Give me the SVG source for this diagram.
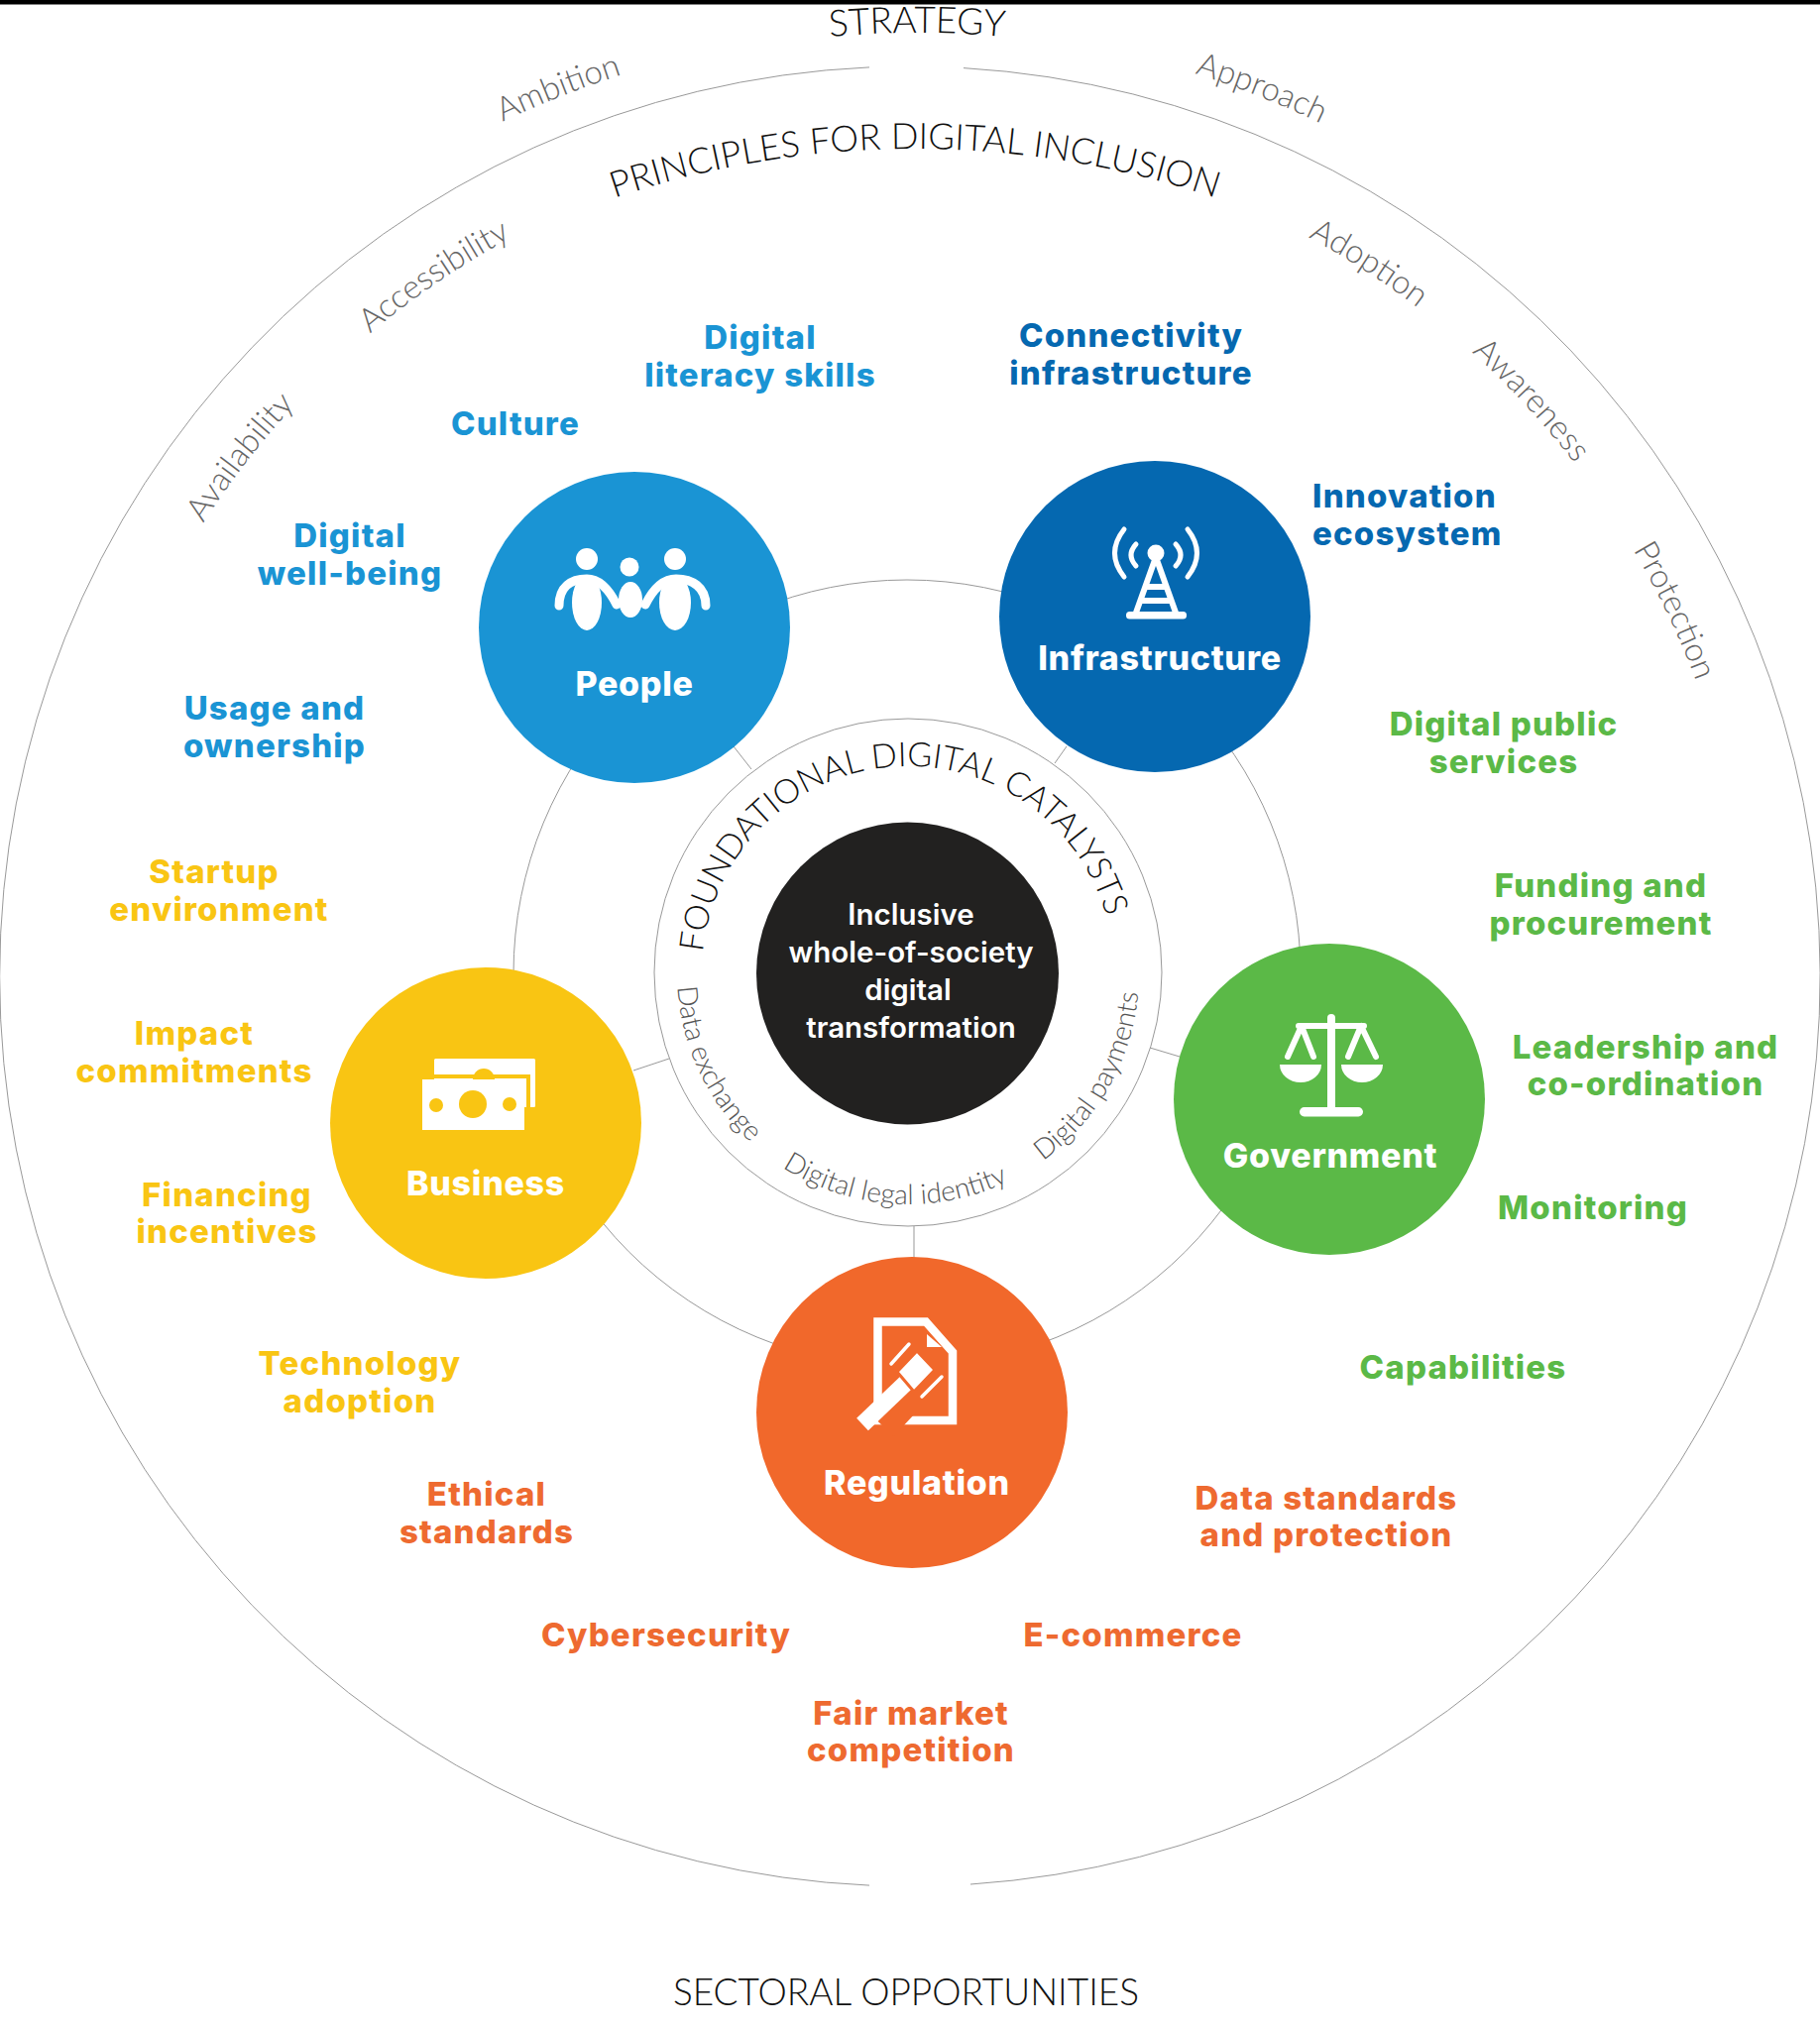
<svg xmlns="http://www.w3.org/2000/svg" width="1836" height="2048" viewBox="0 0 1836 2048">
<style>
text{font-family:"Lato","Open Sans","Liberation Sans",sans-serif}
.l,.n,.c{font-family:"Inter","Open Sans","Liberation Sans",sans-serif;text-anchor:middle}
.l{font-size:33px;font-weight:800;letter-spacing:1.2px}
.n{font-size:34px;font-weight:800;letter-spacing:.7px;fill:#fff}
.c{font-size:29.5px;font-weight:600;fill:#fff}
.pb{fill:#1a94d4}.ib{fill:#0568b0}.gb{fill:#5bb947}.rb{fill:#ee6a30}.yb{fill:#f9c513}
.h{font-size:36.300px;font-weight:300;fill:#111}
.f{font-size:34px;font-weight:300;fill:#111}
.hs{font-size:37px;font-weight:300;fill:#111;text-anchor:middle}
.p{font-size:33px;font-weight:300;fill:#666}
.d{font-size:28px;font-weight:300;fill:#555}
.ln{fill:none;stroke:#999;stroke-width:1}
.w{fill:none;stroke:#fff;stroke-linecap:round}
</style>
<defs>
<path id="arcStrategy" d="M700 60 A950 950 0 0 1 1150 60"/>
<path id="arcOuter" d="M918 1940 A955 955 0 1 1 918.100 1940"/>
<path id="arcInner" d="M918 1832 A847 847 0 1 1 918.100 1832"/>
<path id="arcPrinciples" d="M503 248 A950 950 0 0 1 1343 248"/>
<path id="arcFound" d="M916 1189 A208 208 0 1 1 916.100 1189"/>
<path id="arcCat" d="M916 749 A233 233 0 1 0 916.100 749"/>
</defs>
<rect width="1836" height="2048" fill="#fff"/>
<rect width="1836" height="4.500" fill="#000"/>

<g id="connectors" class="ln">
<path d="M877 67.900 A918 918 0 0 0 877 1902.100"/>
<path d="M972 68.600 A918 918 0 0 1 979 1901"/>
<circle cx="915" cy="982" r="397"/>
<circle cx="916" cy="981" r="256"/>
<path d="M740 753L758 776M1076 753L1064 770M639 1080L675 1068M922 1237V1269M1160 1057L1190 1066"/>
</g>

<g id="ring-labels">
<text class="hs"><textPath href="#arcStrategy" startOffset="50%">STRATEGY</textPath></text>
<text class="hs" x="914" y="2023">SECTORAL OPPORTUNITIES</text>
<text class="h"><textPath href="#arcPrinciples" startOffset="50%" text-anchor="middle">PRINCIPLES FOR DIGITAL INCLUSION</textPath></text>
<text class="p"><textPath href="#arcOuter" startOffset="44%" text-anchor="middle">Ambition</textPath></text>
<text class="p"><textPath href="#arcOuter" startOffset="56%" text-anchor="middle">Approach</textPath></text>
<text class="p"><textPath href="#arcInner" startOffset="35.500%" text-anchor="middle">Availability</textPath></text>
<text class="p"><textPath href="#arcInner" startOffset="40.500%" text-anchor="middle">Accessibility</textPath></text>
<text class="p"><textPath href="#arcInner" startOffset="59.100%" text-anchor="middle">Adoption</textPath></text>
<text class="p"><textPath href="#arcInner" startOffset="63.100%" text-anchor="middle">Awareness</textPath></text>
<text class="p"><textPath href="#arcInner" startOffset="67.900%" text-anchor="middle">Protection</textPath></text>
<text class="f"><textPath href="#arcFound" startOffset="48.600%" text-anchor="middle">FOUNDATIONAL DIGITAL CATALYSTS</textPath></text>
<text class="d"><textPath href="#arcCat" startOffset="32%" text-anchor="middle">Data exchange</textPath></text>
<text class="d"><textPath href="#arcCat" startOffset="49%" text-anchor="middle">Digital legal identity</textPath></text>
<text class="d"><textPath href="#arcCat" startOffset="66.800%" text-anchor="middle">Digital payments</textPath></text>
</g>

<g id="center">
<circle cx="915.500" cy="982" r="152.500" fill="#222120"/>
<text class="c" x="919" y="933">Inclusive</text>
<text class="c" x="919" y="971">whole-of-society</text>
<text class="c" x="916" y="1009">digital</text>
<text class="c" x="919" y="1047">transformation</text>
</g>

<g id="people">
<circle cx="640" cy="633" r="157" fill="#1a94d4"/>
<g fill="#fff"><circle cx="592" cy="564" r="11"/><circle cx="635" cy="572" r="9.500"/><circle cx="681" cy="564" r="11"/>
<ellipse cx="592" cy="608" rx="15" ry="28"/><ellipse cx="636" cy="605" rx="12" ry="18"/><ellipse cx="681" cy="608" rx="16" ry="28"/></g>
<path class="w" stroke-width="9" d="M564 611C564 592 576 584 592 584C606 584 615 596 622 610M712 611C712 592 698 584 682 584C668 584 658 596 651 610"/>
<text class="n" x="640" y="702">People</text>
</g>

<g id="infrastructure">
<circle cx="1165" cy="622" r="157" fill="#0568b0"/>
<circle cx="1166" cy="558" r="8.500" fill="#fff"/>
<path class="w" stroke-width="6" stroke-linecap="butt" d="M1166 562L1146 618M1166 562L1186 618M1156 592H1176M1151 606H1181"/>
<rect x="1136" y="617" width="61" height="7.500" rx="3.500" fill="#fff"/>
<path class="w" stroke-width="5" d="M1134 534Q1115 558 1134 582M1146 549Q1136 560 1146 571M1198 534Q1217 558 1198 582M1186 549Q1196 560 1186 571"/>
<text class="n" x="1170" y="676">Infrastructure</text>
</g>

<g id="government">
<circle cx="1341" cy="1109" r="157" fill="#5bb947"/>
<path class="w" stroke-width="8" d="M1343 1027V1122"/>
<rect x="1311" y="1117" width="64" height="9.500" rx="4.700" fill="#fff"/>
<path class="w" stroke-width="6" d="M1310 1035H1376M1313 1035L1299 1066M1313 1035L1325 1066M1373 1035L1360 1066M1373 1035L1388 1066"/>
<path fill="#fff" d="M1291 1074H1333A21 18 0 0 1 1291 1074ZM1353 1074H1395A21 18 0 0 1 1353 1074Z"/>
<text class="n" x="1342" y="1178">Government</text>
</g>

<g id="business">
<circle cx="490" cy="1133" r="157" fill="#f9c513"/>
<rect x="438" y="1068" width="102" height="49" rx="1.500" fill="#fff"/>
<circle cx="488" cy="1089" r="11" fill="#f9c513"/>
<rect x="426" y="1089" width="103" height="51" fill="#fff"/>
<path d="M438 1086H533V1117" fill="none" stroke="#f9c513" stroke-width="4"/>
<circle cx="477" cy="1114" r="14" fill="#f9c513"/><circle cx="440" cy="1115" r="7" fill="#f9c513"/><circle cx="514" cy="1114" r="7" fill="#f9c513"/>
<text class="n" x="490" y="1206">Business</text>
</g>

<g id="regulation">
<circle cx="920" cy="1425" r="157" fill="#f1682b"/>
<path fill="none" stroke="#fff" stroke-width="8.500" stroke-linejoin="miter" d="M885.500 1433V1333.500H934L961 1364V1433Z"/>
<path fill="#fff" d="M935 1346L950 1359H935Z"/>
<path d="M892 1440L923 1407" stroke="#f1682b" stroke-width="26"/>
<path d="M870 1437L915 1394" stroke="#fff" stroke-width="17"/>
<path d="M905 1384L925 1363L943 1382L922 1404Z" fill="#fff" stroke="#f1682b" stroke-width="3"/>
<path class="w" stroke-width="3.500" d="M899 1376L917 1356M930 1409L950 1389"/>
<text class="n" x="925" y="1508">Regulation</text>
</g>

<g id="labels">
<text class="l pb" x="767" y="352">Digital</text><text class="l pb" x="767" y="390">literacy skills</text>
<text class="l pb" x="520" y="439">Culture</text>
<text class="l pb" x="353" y="552">Digital</text><text class="l pb" x="353" y="590">well-being</text>
<text class="l pb" x="277" y="726">Usage and</text><text class="l pb" x="277" y="764">ownership</text>
<text class="l ib" x="1141" y="350">Connectivity</text><text class="l ib" x="1141" y="388">infrastructure</text>
<text class="l ib" x="1324" y="512" style="text-anchor:start">Innovation</text><text class="l ib" x="1324" y="550" style="text-anchor:start">ecosystem</text>
<text class="l gb" x="1517" y="742">Digital public</text><text class="l gb" x="1517" y="780">services</text>
<text class="l gb" x="1615" y="905">Funding and</text><text class="l gb" x="1615" y="943">procurement</text>
<text class="l gb" x="1660" y="1068">Leadership and</text><text class="l gb" x="1660" y="1105">co-ordination</text>
<text class="l gb" x="1607" y="1230">Monitoring</text>
<text class="l gb" x="1476" y="1391">Capabilities</text>
<text class="l yb" x="216" y="891">Startup</text><text class="l yb" x="221" y="929">environment</text>
<text class="l yb" x="196" y="1054">Impact</text><text class="l yb" x="196" y="1092">commitments</text>
<text class="l yb" x="229" y="1217">Financing</text><text class="l yb" x="229" y="1254">incentives</text>
<text class="l yb" x="363" y="1387">Technology</text><text class="l yb" x="363" y="1425">adoption</text>
<text class="l rb" x="491" y="1519">Ethical</text><text class="l rb" x="491" y="1557">standards</text>
<text class="l rb" x="1338" y="1523">Data standards</text><text class="l rb" x="1338" y="1560">and protection</text>
<text class="l rb" x="672" y="1661">Cybersecurity</text>
<text class="l rb" x="1143" y="1661">E-commerce</text>
<text class="l rb" x="919" y="1740">Fair market</text><text class="l rb" x="919" y="1777">competition</text>
</g>
</svg>
